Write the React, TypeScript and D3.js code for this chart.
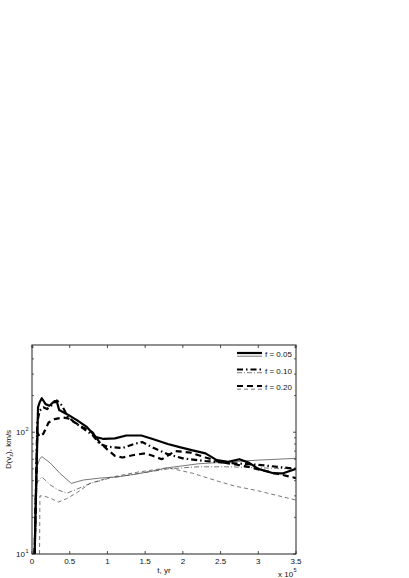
import React from 'react';
import * as d3 from 'd3';

// ---- data: [t (x 1e5 yr), D(v_z) km/s] ----
const f005Thick: [number, number][] = [
  [0.035, 10], [0.08, 160], [0.1, 175], [0.13, 190], [0.18, 170], [0.23, 165], [0.3, 180],
  [0.33, 178], [0.36, 152], [0.47, 140], [0.6, 125], [0.73, 110], [0.85, 91], [0.95, 88],
  [1.1, 89], [1.25, 94], [1.45, 94], [1.6, 88], [1.8, 80], [1.97, 75], [2.13, 71],
  [2.3, 67], [2.45, 59], [2.6, 57], [2.75, 60], [2.88, 56], [3.0, 50], [3.2, 46],
  [3.33, 46], [3.5, 50],
];
const f010Thick: [number, number][] = [
  [0.035, 10], [0.07, 120], [0.1, 150], [0.15, 160], [0.2, 155], [0.28, 170], [0.33, 182],
  [0.4, 165], [0.47, 135], [0.55, 122], [0.7, 105], [0.8, 95], [0.9, 80], [1.0, 76],
  [1.2, 74], [1.35, 80], [1.46, 83], [1.6, 75], [1.8, 66], [2.0, 61], [2.3, 58],
  [2.6, 56], [3.0, 54], [3.5, 50],
];
const f020Thick: [number, number][] = [
  [0.035, 10], [0.07, 100], [0.1, 92], [0.15, 97], [0.22, 120], [0.3, 128], [0.4, 132],
  [0.48, 130], [0.57, 120], [0.67, 110], [0.8, 100], [0.9, 82], [1.0, 72], [1.1, 64],
  [1.2, 62], [1.35, 65], [1.5, 67], [1.6, 64], [1.72, 60], [1.9, 70], [2.1, 68],
  [2.3, 62], [2.5, 57], [2.8, 53], [3.1, 48], [3.5, 42],
];
const f005Thin: [number, number][] = [
  [0.03, 10], [0.05, 48], [0.1, 60], [0.13, 63], [0.24, 56], [0.37, 46], [0.52, 38],
  [0.68, 40.5], [0.9, 42], [1.13, 43], [1.35, 45], [1.6, 48], [1.79, 51], [2.0, 53],
  [2.2, 55], [2.6, 57], [3.0, 59], [3.5, 61],
];
const f010Thin: [number, number][] = [
  [0.04, 10], [0.06, 38], [0.13, 43], [0.24, 37], [0.35, 33.5], [0.46, 31.6], [0.57, 33.5],
  [0.77, 38], [1.03, 42], [1.43, 46], [1.8, 50], [2.2, 52], [2.6, 52], [3.0, 51], [3.5, 50],
];
const f020Thin: [number, number][] = [
  [0.1, 10], [0.105, 30], [0.15, 30], [0.24, 28.8], [0.35, 26.7], [0.46, 28.5], [0.6, 32],
  [0.77, 38], [1.03, 42.5], [1.4, 47], [1.8, 51], [2.0, 48], [2.13, 46], [2.5, 39],
  [2.7, 36], [3.0, 33], [3.5, 27.7],
];

const xTicks = [0, 0.5, 1, 1.5, 2, 2.5, 3, 3.5];
const xTickLabels = ['0', '0.5', '1', '1.5', '2', '2.5', '3', '3.5'];
const yMajor = [10, 100];
const yMinor = [20, 30, 40, 50, 60, 70, 80, 90, 200, 300, 400, 500];
const legendLabels = ['f = 0.05', 'f = 0.10', 'f = 0.20'];

const FONT = '"Liberation Sans", Arial, sans-serif';

export default function App() {
  const L = 32, R = 296, T = 345, B = 554;
  const x = d3.scaleLinear().domain([0, 3.5]).range([L, R]);
  const y = d3.scaleLog().domain([10, 520]).range([B, T]);
  const line = d3.line<[number, number]>().x(d => x(d[0])).y(d => y(d[1]));

  const thickW = 2.2, thinW = 0.8;
  const thinC = '#555';
  const styles = [
    { thick: f005Thick, thin: f005Thin, dash: undefined as string | undefined, thinDash: undefined as string | undefined },
    { thick: f010Thick, thin: f010Thin, dash: '6,3,1.5,3', thinDash: '5,2,1,2' },
    { thick: f020Thick, thin: f020Thin, dash: '6,4', thinDash: '4,3' },
  ];
  const axisC = '#222';
  const tk = 3, tkm = 2;

  return (
    <svg width={409} height={578} style={{ position: 'absolute', left: 0, top: 0, background: '#fff' }}>
      <defs>
        <clipPath id="plot">
          <rect x={L} y={T} width={R - L} height={B - T} />
        </clipPath>
      </defs>
      <g clipPath="url(#plot)" fill="none">
        {styles.map((s, i) => (
          <path key={'thin' + i} d={line(s.thin) || ''} stroke={thinC} strokeWidth={thinW} strokeDasharray={s.thinDash} />
        ))}
        {styles.map((s, i) => (
          <path key={'thick' + i} d={line(s.thick) || ''} stroke="#000" strokeWidth={thickW} strokeDasharray={s.dash} strokeLinejoin="round" />
        ))}
      </g>
      {/* axes box */}
      <rect x={L} y={T} width={R - L} height={B - T} fill="none" stroke={axisC} strokeWidth={1} />
      {xTicks.map((t, i) => (
        <g key={'xt' + i}>
          <line x1={x(t)} x2={x(t)} y1={B} y2={B - tk} stroke={axisC} strokeWidth={0.8} />
          <line x1={x(t)} x2={x(t)} y1={T} y2={T + tk} stroke={axisC} strokeWidth={0.8} />
          <text x={x(t)} y={564} fontSize={8} fontFamily={FONT} textAnchor="middle" fill="#111">{xTickLabels[i]}</text>
        </g>
      ))}
      {yMajor.map((v, i) => (
        <g key={'ym' + i}>
          <line x1={L} x2={L + tk} y1={y(v)} y2={y(v)} stroke={axisC} strokeWidth={0.8} />
          <line x1={R} x2={R - tk} y1={y(v)} y2={y(v)} stroke={axisC} strokeWidth={0.8} />
          <text x={25} y={y(v) + 3} fontSize={8} fontFamily={FONT} textAnchor="end" fill="#111">10</text>
          <text x={25.5} y={y(v) - 1} fontSize={5.5} fontFamily={FONT} fill="#111">{String(Math.round(Math.log10(v)))}</text>
        </g>
      ))}
      {yMinor.map((v, i) => (
        <g key={'yn' + i}>
          <line x1={L} x2={L + tkm} y1={y(v)} y2={y(v)} stroke={axisC} strokeWidth={0.7} />
          <line x1={R} x2={R - tkm} y1={y(v)} y2={y(v)} stroke={axisC} strokeWidth={0.7} />
        </g>
      ))}
      {/* axis labels */}
      <text x={164} y={573} fontSize={8} fontFamily={FONT} textAnchor="middle" fill="#111">t, yr</text>
      <text x={278} y={577} fontSize={8} fontFamily={FONT} fill="#111">x 10</text>
      <text x={293.5} y={572} fontSize={5.5} fontFamily={FONT} fill="#111">5</text>
      <text transform={`translate(11, ${(T + B) / 2}) rotate(-90)`} fontSize={8} fontFamily={FONT} textAnchor="middle" fill="#111">
        D(v<tspan fontSize={5.5} dy={2}>z</tspan><tspan dy={-2}>), km/s</tspan>
      </text>
      {/* legend */}
      {styles.map((s, i) => {
        const ly = 353 + i * 16.5;
        return (
          <g key={'lg' + i}>
            <line x1={237} x2={262} y1={ly} y2={ly} stroke="#000" strokeWidth={thickW} strokeDasharray={s.dash} />
            <line x1={237} x2={262} y1={ly + 3.2} y2={ly + 3.2} stroke={thinC} strokeWidth={thinW} strokeDasharray={s.thinDash} />
            <text x={265} y={ly + 4} fontSize={8} fontFamily={FONT} fill="#111">{legendLabels[i]}</text>
          </g>
        );
      })}
    </svg>
  );
}
